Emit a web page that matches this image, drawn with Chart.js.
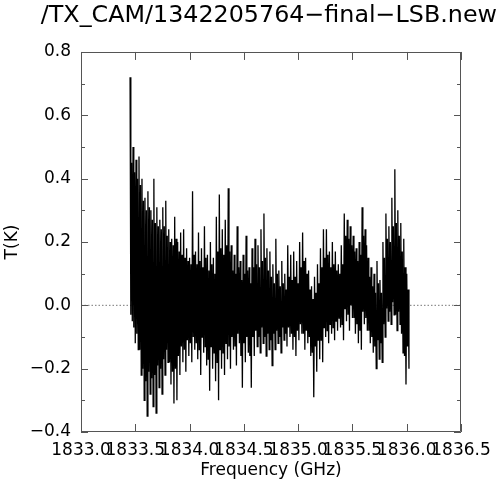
<!DOCTYPE html>
<html>
<head>
<meta charset="utf-8">
<script src="https://cdn.jsdelivr.net/npm/chart.js@4.4.1/dist/chart.umd.min.js"></script>
<style>
html,body{margin:0;padding:0;background:#fff;}
#c{display:block;}
</style>
</head>
<body>
<canvas id="c" width="500" height="487"></canvas>
<script>
// Title and axis labels
const chartTitle = "/TX_CAM/1342205764\u2212final\u2212LSB.new";
const xTitle = "Frequency (GHz)";
const yTitle = "T(K)";

// Axis ranges / ticks
const xTicks = [1833.0, 1833.5, 1834.0, 1834.5, 1835.0, 1835.5, 1836.0, 1836.5];
const yTicks = [-0.4, -0.2, 0.0, 0.2, 0.4, 0.6, 0.8];
const yMinorTicks = [-0.3, -0.1, 0.1, 0.3, 0.5, 0.7];

// Spectrum channel grid (GHz)
const freqStart = 1833.452;
const channelStep = 0.00685;

// Per group of 4 channels: highest, lowest, and the dense-core upper/lower values (K)
const hiEnvelope = [0.72,0.50,0.46,0.47,0.40,0.34,0.36,0.30,0.40,0.31,
  0.27,0.31,0.33,0.24,0.21,0.28,0.20,0.23,0.24,0.18,
  0.15,0.36,0.17,0.23,0.18,0.25,0.16,0.20,0.15,0.28,
  0.35,0.24,0.27,0.37,0.19,0.16,0.25,0.14,0.16,0.22,
  0.12,0.18,0.21,0.19,0.24,0.29,0.18,0.17,0.13,0.21,
  0.11,0.14,0.10,0.19,0.16,0.17,0.14,0.20,0.23,0.15,
  0.11,0.06,0.09,0.13,0.18,0.24,0.24,0.17,0.20,0.17,
  0.13,0.19,0.29,0.27,0.25,0.22,0.18,0.20,0.31,0.24,
  0.15,0.12,0.10,0.14,0.08,0.20,0.29,0.25,0.34,0.43,
  0.30,0.26,0.21,0.10];
const loEnvelope = [-0.05,-0.12,-0.14,-0.22,-0.30,-0.35,-0.28,-0.32,-0.34,-0.26,
  -0.28,-0.22,-0.18,-0.25,-0.31,-0.30,-0.22,-0.18,-0.21,-0.16,
  -0.18,-0.14,-0.17,-0.22,-0.15,-0.19,-0.27,-0.20,-0.24,-0.30,
  -0.20,-0.22,-0.17,-0.20,-0.14,-0.19,-0.12,-0.26,-0.18,-0.15,
  -0.26,-0.16,-0.13,-0.15,-0.12,-0.16,-0.14,-0.19,-0.14,-0.12,
  -0.15,-0.11,-0.13,-0.10,-0.14,-0.16,-0.11,-0.09,-0.14,-0.12,
  -0.16,-0.29,-0.21,-0.17,-0.18,-0.10,-0.12,-0.09,-0.11,-0.08,
  -0.07,-0.11,-0.05,-0.08,-0.04,-0.09,-0.12,-0.14,-0.06,-0.08,
  -0.12,-0.15,-0.20,-0.17,-0.18,-0.10,-0.05,-0.06,-0.03,-0.08,
  -0.06,-0.15,-0.25,-0.20];
const coreHi = [0.45,0.42,0.40,0.38,0.33,0.30,0.31,0.27,0.26,0.25,
  0.24,0.25,0.22,0.20,0.19,0.21,0.17,0.16,0.15,0.14,
  0.13,0.16,0.13,0.14,0.12,0.15,0.11,0.13,0.10,0.17,
  0.18,0.16,0.19,0.17,0.11,0.10,0.12,0.08,0.10,0.11,
  0.07,0.12,0.13,0.12,0.14,0.15,0.11,0.09,0.07,0.10,
  0.06,0.07,0.05,0.09,0.08,0.09,0.07,0.12,0.14,0.10,
  0.05,0.02,0.04,0.07,0.12,0.15,0.16,0.12,0.13,0.11,
  0.10,0.13,0.22,0.21,0.19,0.17,0.14,0.16,0.22,0.19,
  0.09,0.06,0.04,0.07,0.04,0.15,0.21,0.20,0.25,0.26,
  0.22,0.17,0.12,0.05];
const coreLo = [-0.03,-0.07,-0.09,-0.14,-0.20,-0.24,-0.21,-0.23,-0.22,-0.19,
  -0.20,-0.17,-0.14,-0.18,-0.21,-0.20,-0.16,-0.13,-0.14,-0.11,
  -0.12,-0.10,-0.12,-0.14,-0.10,-0.13,-0.17,-0.13,-0.15,-0.18,
  -0.14,-0.15,-0.12,-0.13,-0.10,-0.13,-0.09,-0.16,-0.12,-0.10,
  -0.16,-0.10,-0.08,-0.10,-0.07,-0.10,-0.09,-0.11,-0.09,-0.08,
  -0.10,-0.07,-0.09,-0.07,-0.09,-0.10,-0.08,-0.06,-0.09,-0.08,
  -0.10,-0.15,-0.13,-0.11,-0.11,-0.07,-0.08,-0.06,-0.07,-0.05,
  -0.04,-0.06,-0.01,-0.03,0.00,-0.04,-0.06,-0.08,-0.02,-0.04,
  -0.08,-0.10,-0.13,-0.11,-0.12,-0.06,-0.01,-0.02,0.01,-0.03,
  -0.02,-0.09,-0.16,-0.13];

// Build the spectrum trace channel by channel
const spectrum = [];
for (let i = 0; i < hiEnvelope.length; i++) {
  const vals = [hiEnvelope[i], coreLo[i], coreHi[i], loEnvelope[i]];
  vals.forEach((v, k) => spectrum.push({x: freqStart + (4 * i + k) * channelStep, y: v}));
}
const zeroLine = [{x: xTicks[0], y: 0}, {x: xTicks[xTicks.length - 1], y: 0}];

const FONT = "'DejaVu Sans', sans-serif";
const fmt = v => (Math.abs(v) < 1e-9 ? 0 : v).toFixed(1).replace('-', '\u2212');

const framePlugin = {
  id: 'frame',
  afterDatasetsDraw(chart) {
    const {ctx, chartArea: a, scales: {x, y}} = chart;
    ctx.save();
    ctx.strokeStyle = '#555';
    ctx.lineWidth = 1;
    ctx.beginPath();
    ctx.rect(Math.round(a.left) + 0.5, Math.round(a.top) + 0.5,
             Math.round(a.right - a.left) - 1, Math.round(a.bottom - a.top) - 1);
    ctx.stroke();
    ctx.beginPath();
    xTicks.forEach(v => {
      const px = Math.round(x.getPixelForValue(v)) + 0.5;
      ctx.moveTo(px, a.bottom); ctx.lineTo(px, a.bottom - 8);
      ctx.moveTo(px, a.top); ctx.lineTo(px, a.top + 8);
    });
    yTicks.forEach(v => {
      const py = Math.round(y.getPixelForValue(v)) + 0.5;
      ctx.moveTo(a.left, py); ctx.lineTo(a.left + 7, py);
      ctx.moveTo(a.right, py); ctx.lineTo(a.right - 7, py);
    });
    yMinorTicks.forEach(v => {
      const py = Math.round(y.getPixelForValue(v)) + 0.5;
      ctx.moveTo(a.left, py); ctx.lineTo(a.left + 4, py);
      ctx.moveTo(a.right, py); ctx.lineTo(a.right - 4, py);
    });
    ctx.stroke();
    ctx.restore();
  }
};

new Chart(document.getElementById('c'), {
  type: 'line',
  data: {
    datasets: [
      {data: spectrum, borderColor: '#000', borderWidth: 1.3, pointRadius: 0, tension: 0, fill: false, order: 0},
      {data: zeroLine, borderColor: '#777', borderWidth: 1, borderDash: [1.5, 2], pointRadius: 0, fill: false, order: 1}
    ]
  },
  options: {
    responsive: false,
    animation: false,
    devicePixelRatio: 1,
    events: [],
    layout: {padding: {top: 0, right: 3, bottom: 0, left: 0}},
    plugins: {
      legend: {display: false},
      tooltip: {enabled: false},
      title: {
        display: true, text: chartTitle, color: '#000', fullSize: true, align: 'end',
        font: {family: FONT, size: 23.8, weight: 'normal', lineHeight: 1.2},
        padding: {top: 2, bottom: 21.4}
      }
    },
    scales: {
      x: {
        type: 'linear', min: xTicks[0], max: xTicks[xTicks.length - 1],
        afterFit(s) { s.height = 55; },
        afterBuildTicks(s) { s.ticks = xTicks.map(v => ({value: v})); },
        grid: {display: false, drawTicks: false},
        border: {display: false},
        ticks: {autoSkip: false, maxRotation: 0, minRotation: 0, padding: 8, color: '#000',
                font: {family: FONT, size: 17}, callback: v => v.toFixed(1)},
        title: {display: true, text: xTitle, color: '#000', font: {family: FONT, size: 17},
                padding: {top: 0, bottom: 6}}
      },
      y: {
        type: 'linear', min: yTicks[0], max: yTicks[yTicks.length - 1],
        afterFit(s) { s.width = 81; },
        afterBuildTicks(s) { s.ticks = yTicks.map(v => ({value: v})); },
        grid: {display: false, drawTicks: false},
        border: {display: false},
        ticks: {padding: 10, color: '#000', font: {family: FONT, size: 17}, callback: v => fmt(v)},
        title: {display: true, text: yTitle, color: '#000', font: {family: FONT, size: 17},
                padding: {top: 2, bottom: 0}}
      },
      yRight: {
        type: 'linear', position: 'right', min: yTicks[0], max: yTicks[yTicks.length - 1],
        afterFit(s) { s.width = 36; },
        grid: {display: false, drawTicks: false},
        border: {display: false},
        ticks: {display: false}
      }
    }
  },
  plugins: [framePlugin]
});
</script>
</body>
</html>
